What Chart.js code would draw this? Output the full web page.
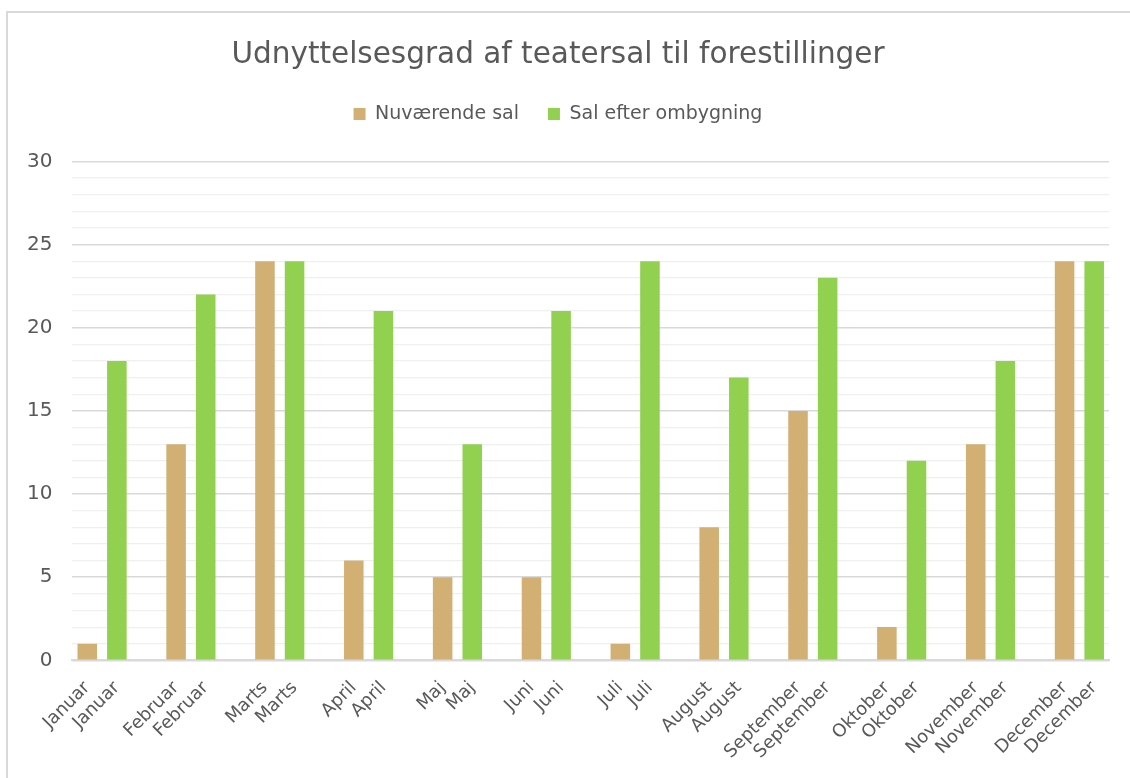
<!DOCTYPE html>
<html>
<head>
<meta charset="utf-8">
<script src="https://cdn.jsdelivr.net/npm/chart.js@4"></script>
<style>
  html, body { margin: 0; padding: 0; background: #fff; overflow: hidden; }
  #frame { position: absolute; left: 6px; top: 11px; width: 1200px; height: 900px;
           border-left: 2px solid #d9d9d9; border-top: 2px solid #d9d9d9; }
  #myChart { position: absolute; left: 0; top: 0; }
</style>
</head>
<body>
<div id="frame"></div>
<canvas id="myChart" width="1130" height="778"></canvas>
<script>
const months = ['Januar', 'Februar', 'Marts', 'April', 'Maj', 'Juni',
  'Juli', 'August', 'September', 'Oktober', 'November', 'December'];
const nuvaerendeSal = [1, 13, 24, 6, 5, 5, 1, 8, 15, 2, 13, 24];
const salEfterOmbygning = [18, 22, 24, 21, 13, 21, 24, 17, 23, 12, 18, 24];
const yTicks = [0, 5, 10, 15, 20, 25, 30];

// each month gets two slots (one per series) and an empty slot between months
var labels = [];
var tanData = [];
var greenData = [];
months.forEach(function(m, i) {
  labels.push(m, m);
  tanData.push(nuvaerendeSal[i], null);
  greenData.push(null, salEfterOmbygning[i]);
  if (i < months.length - 1) {
    labels.push('');
    tanData.push(null);
    greenData.push(null);
  }
});

Chart.defaults.font.family = '"DejaVu Sans", sans-serif';
Chart.defaults.color = '#595959';

// extra space under the legend
const legendSpacer = {
  id: 'legendSpacer',
  beforeInit: function(chart) {
    const origFit = chart.legend.fit;
    chart.legend.fit = function() {
      origFit.bind(chart.legend)();
      this.height += 28;
    };
  }
};

var ctx = document.getElementById('myChart').getContext('2d');
var myChart = new Chart(ctx, {
  type: 'bar',
  data: {
    labels: labels,
    datasets: [
      {
        label: 'Nuværende sal',
        data: tanData,
        backgroundColor: '#D2B074',
        grouped: false,
        categoryPercentage: 1,
        barPercentage: 0.66
      },
      {
        label: 'Sal efter ombygning',
        data: greenData,
        backgroundColor: '#92D050',
        grouped: false,
        categoryPercentage: 1,
        barPercentage: 0.66
      }
    ]
  },
  plugins: [legendSpacer],
  options: {
    responsive: false,
    animation: false,
    layout: { padding: { left: 7, right: 21, top: 0, bottom: 6 } },
    plugins: {
      title: {
        display: true,
        text: 'Udnyttelsesgrad af teatersal til forestillinger',
        color: '#595959',
        font: { size: 29.5, weight: 'normal' },
        padding: { top: 38, bottom: 2 }
      },
      legend: {
        labels: {
          boxWidth: 12,
          boxHeight: 12,
          padding: 29,
          font: { size: 19 },
          color: '#595959'
        }
      },
      tooltip: { enabled: false }
    },
    scales: {
      x: {
        grid: { display: false },
        border: { display: true, color: '#d9d9d9', width: 2 },
        ticks: {
          autoSkip: false,
          maxRotation: 45,
          minRotation: 45,
          padding: 9,
          font: { size: 18 },
          color: '#595959'
        }
      },
      y: {
        min: 0,
        max: 30,
        border: { display: false },
        grid: {
          drawTicks: false,
          color: function(c) { return yTicks.includes(c.tick.value) ? '#d9d9d9' : '#efefef'; },
          lineWidth: function(c) { return yTicks.includes(c.tick.value) ? 1.5 : 1.2; }
        },
        ticks: {
          stepSize: 1,
          autoSkip: false,
          padding: 20,
          font: { size: 20 },
          color: '#595959',
          callback: function(v) { return yTicks.includes(v) ? v : ''; }
        }
      }
    }
  }
});
</script>
</body>
</html>
